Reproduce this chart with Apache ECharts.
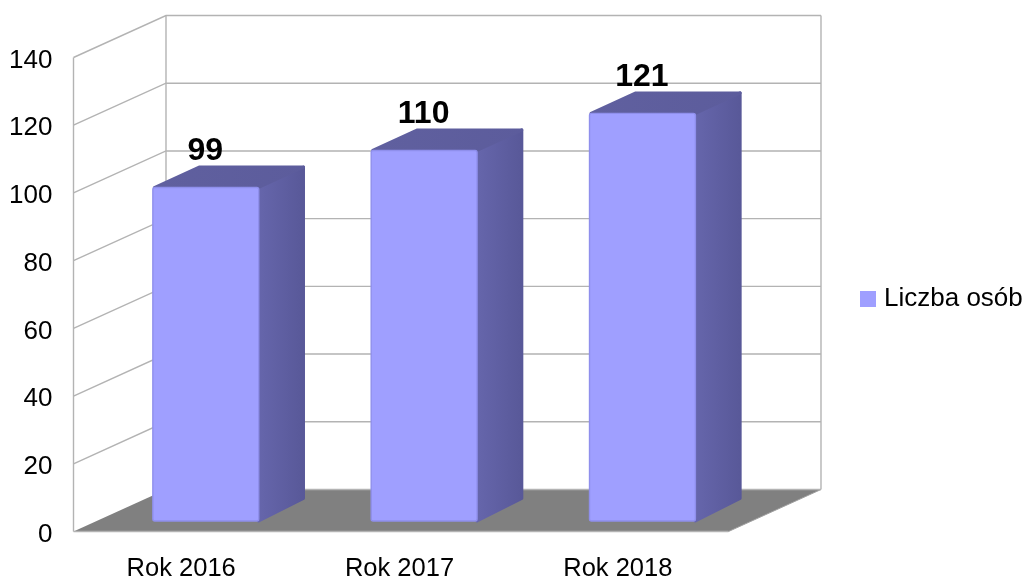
<!DOCTYPE html>
<html>
<head>
<meta charset="utf-8">
<style>html,body{margin:0;padding:0;background:#fff}#c{width:1028px;height:579px}</style>
<script src="https://cdn.jsdelivr.net/npm/echarts@6/dist/echarts.min.js"></script>
</head>
<body>
<div id="c"></div>
<script>
const categories = ['Rok 2016', 'Rok 2017', 'Rok 2018'];
const values = [99, 110, 121];
const yTicks = [0, 20, 40, 60, 80, 100, 120, 140];
const seriesName = 'Liczba osób';
const FONT = '"Liberation Sans", Arial, sans-serif';
const DX = 92.5, DY = -42;
const chart = echarts.init(document.getElementById('c'), null, {renderer: 'canvas'});
const wallColor = '#b3b3b3';

function renderWall(params, api) {
  const v = api.value(0);
  const cs = params.coordSys;
  const p = api.coord([0, v]);
  const y = p[1];
  const x0 = cs.x, x1 = cs.x + cs.width;
  const lineStyle = {stroke: wallColor, lineWidth: 1.4, fill: null};
  const children = [];
  if (v === 0) {
    children.push({type: 'polygon', shape: {points: [[x0, y], [x0 + DX, y + DY], [x1 + DX, y + DY], [x1, y]]}, style: {fill: '#808080'}});
    children.push({type: 'line', shape: {x1: x0, y1: y, x2: x1, y2: y}, style: lineStyle});
    children.push({type: 'line', shape: {x1: x1, y1: y, x2: x1 + DX, y2: y + DY}, style: {stroke: '#a0a0a0', lineWidth: 1}});
    children.push({type: 'line', shape: {x1: x0 + DX, y1: y + DY, x2: x1 + DX, y2: y + DY}, style: lineStyle});
  } else {
    children.push({type: 'polyline', shape: {points: [[x0, y], [x0 + DX, y + DY], [x1 + DX, y + DY]]}, style: lineStyle});
  }
  if (v === 140) {
    const yb = api.coord([0, 0])[1];
    children.push({type: 'line', shape: {x1: x0, y1: y, x2: x0, y2: yb}, style: lineStyle});
    children.push({type: 'line', shape: {x1: x0 + DX, y1: y + DY, x2: x0 + DX, y2: yb + DY}, style: lineStyle});
    children.push({type: 'line', shape: {x1: x1 + DX, y1: y + DY, x2: x1 + DX, y2: yb + DY}, style: lineStyle});
  }
  return {type: 'group', children};
}

function renderBar(params, api) {
  const top = api.coord([api.value(0), api.value(1)]);
  const base = api.coord([api.value(0), 0]);
  const w = api.size([1, 0])[0] * 0.485;
  const ox = DX / 4, oy = DY / 4;
  const l = top[0] - w / 2 + ox, r = l + w;
  const b = base[1] + oy;
  const t = b - (base[1] - top[1]) * 0.995;
  const bx = DX / 2, by = DY / 2, byTop = by - 1;
  const sideFill = new echarts.graphic.LinearGradient(0, 0, 1, 0, [
    {offset: 0, color: '#6666ac'}, {offset: 1, color: '#585898'}
  ]);
  const topFill = new echarts.graphic.LinearGradient(0, 0, 1, 0, [
    {offset: 0, color: '#60609f'}, {offset: 1, color: '#5c5c9c'}
  ]);
  return {type: 'group', children: [
    {type: 'polygon', shape: {points: [[r, t], [r + bx - 1.5, t + byTop + 1.5], [r + bx - 1.5, b + by - 1.5], [r, b]]},
      style: {fill: sideFill, stroke: sideFill, lineWidth: 3, lineJoin: 'round'}},
    {type: 'polygon', shape: {points: [[l + 1.5, t], [l + bx, t + byTop + 1.5], [r + bx - 1.5, t + byTop + 1.5], [r, t]]},
      style: {fill: topFill, stroke: topFill, lineWidth: 3, lineJoin: 'round'}},
    {type: 'rect', shape: {x: l, y: t, width: w, height: b - t, r: 2},
      style: {fill: '#9f9fff', stroke: '#8f8fec', lineWidth: 1.4}},
    {type: 'text', style: {x: top[0] + ox - 0.5, y: t - 20, text: String(api.value(1)), fill: '#000',
      font: 'bold 32px ' + FONT, align: 'center', verticalAlign: 'bottom', textAlign: 'center', textVerticalAlign: 'bottom'}, z2: 10}
  ]};
}

chart.setOption({
  animation: false,
  backgroundColor: '#fff',
  grid: {left: 73.5, top: 57.5, width: 655, height: 474, containLabel: false, outerBoundsMode: 'none'},
  legend: {
    data: [{name: seriesName, icon: 'rect'}],
    left: 860, top: 286,
    itemWidth: 16, itemHeight: 16,
    selectedMode: false,
    padding: 0,
    textStyle: {fontFamily: FONT, fontSize: 26, color: '#000', padding: [0, 0, 0, 3]}
  },
  xAxis: {
    type: 'category', data: categories,
    axisLine: {show: false}, axisTick: {show: false}, splitLine: {show: false},
    axisLabel: {fontFamily: FONT, fontSize: 25.5, color: '#000', margin: 24, padding: [0, 3, 0, 0]}
  },
  yAxis: {
    type: 'value', min: 0, max: 140, interval: 20,
    axisLine: {show: false}, axisTick: {show: false}, splitLine: {show: false},
    axisLabel: {fontFamily: FONT, fontSize: 26, lineHeight: 26, color: '#000', margin: 21, verticalAlign: 'top', padding: [-10, 0, 0, 0]}
  },
  series: [
    {type: 'custom', name: 'walls', silent: true, coordinateSystem: 'cartesian2d', renderItem: renderWall,
      encode: {x: -1, y: 0}, data: yTicks.map(v => [v]), z: 1},
    {type: 'custom', name: seriesName, coordinateSystem: 'cartesian2d', renderItem: renderBar,
      encode: {x: 0, y: 1}, itemStyle: {color: '#9f9fff'},
      data: values.map((v, i) => [i, v]), z: 2}
  ]
});
</script>
</body>
</html>
